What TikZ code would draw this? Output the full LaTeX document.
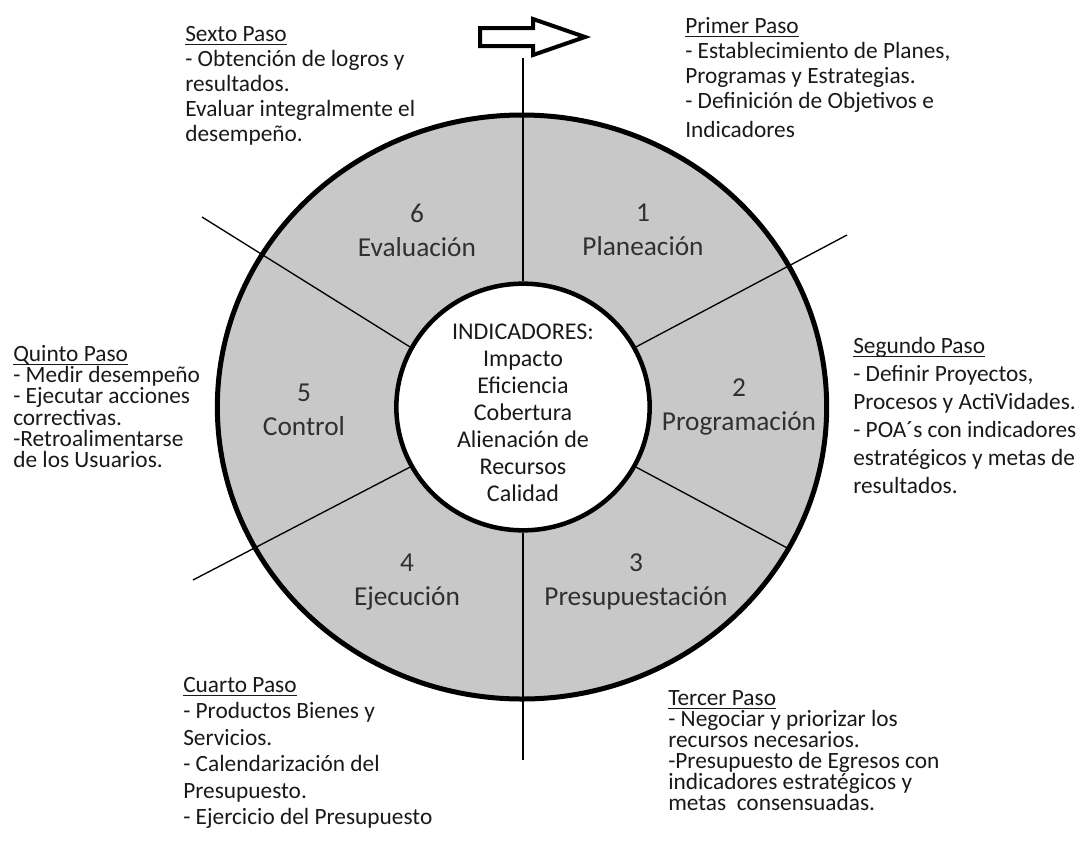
\documentclass[tikz,border=0pt]{standalone}
\usepackage{fontspec}
\setmainfont{Carlito}
\usepackage{tikz}
\usetikzlibrary{positioning,shapes}
\definecolor{anillo}{RGB}{200,200,200}
\definecolor{letra}{RGB}{25,25,25}
\newcommand{\titulo}[1]{\setbox0\hbox{#1}\rlap{\rule[-2.6pt]{\wd0}{0.9pt}}\box0}
\tikzset{
  paso/.style={anchor=north west, align=left, inner sep=0pt, text=letra,
    font={\fontsize{17.5}{#1}\selectfont\lineskiplimit=-20pt}},
  paso/.default=19pt,
  etapa/.style={align=center, inner sep=0pt, text=letra!90,
    font=\fontsize{20.5}{25.5}\selectfont},
  radio/.style={line width=1pt},
  aro/.style={ellipse, draw, inner sep=0pt, line width=#1},
}

\begin{document}
\begin{tikzpicture}[x=0.75pt,y=-0.75pt]
    \useasboundingbox (0,0) rectangle (1091,843);
    \node[aro=3.75pt, fill=anillo, minimum width=457pt, minimum height=438pt] (anillo) at (522,407) {};
    \node[aro=3.4pt, fill=white, minimum width=190pt, minimum height=185pt] (centro) at (523,407) {};

    \coordinate (arriba) at (523,58);
    \coordinate (abajo) at (523,760);
    \coordinate (nordeste) at (847,235);
    \coordinate (noroeste) at (202,217);
    \coordinate (suroeste) at (193,580);
    \draw[radio] (arriba) -- (centro.north);
    \draw[radio] (centro.south) -- (abajo);
    \draw[radio] (centro.28) -- (nordeste);
    \draw[radio] (centro.152) -- (noroeste);
    \draw[radio] (centro.208) -- (suroeste);
    \draw[radio] (centro.-28) -- (anillo.-28);

    \draw[line width=3pt, fill=white, line join=miter]
        (480,28) -- (533,28) -- (533,19) -- (585,37) -- (533,55) -- (533,46) -- (480,46) -- cycle;

    \node[etapa] (planeacion) at (643,230) {1\\Planeación};
    \node[etapa] (evaluacion) at (417,230) {6\\Evaluación};
    \node[etapa] (control) at (304,410) {5\\Control};
    \node[etapa] (programacion) at (739,407) {2\\Programación};
    \node[etapa] (ejecucion) at (407,582) {4\\Ejecución};
    \node[etapa] (presupuestacion) at (636,582) {3\\Presupuestación};

    \node[align=center, inner sep=0pt, text=letra, font=\fontsize{18}{20.3}\selectfont] (indicadores) at (523,413)
        {INDICADORES:\\Impacto\\Eficiencia\\Cobertura\\Alienación de\\Recursos\\Calidad};

    \node[paso=18.8pt] (sexto) at (185,26) {\titulo{Sexto Paso}\\- Obtención de logros y\\resultados.\\Evaluar integralmente el\\desempeño.};
    \node[paso=18.8pt] (primero) at (685,17) {\titulo{Primer Paso}\\- Establecimiento de Planes,\\Programas y Estrategias.\\- Definición de Objetivos e\\[3pt]Indicadores};
    \node[paso=21pt] (segundo) at (853,337) {\titulo{Segundo Paso}\\- Definir Proyectos,\\Procesos y ActiVidades.\\- POA´s con indicadores\\estratégicos y metas de\\resultados.};
    \node[paso=16pt] (quinto) at (13,345) {\titulo{Quinto Paso}\\- Medir desempeño\\- Ejecutar acciones\\correctivas.\\-Retroalimentarse\\de los Usuarios.};
    \node[paso=19.8pt] (cuarto) at (183,677) {\titulo{Cuarto Paso}\\- Productos Bienes y\\Servicios.\\- Calendarización del\\Presupuesto.\\- Ejercicio del Presupuesto};
    \node[paso=15.8pt] (tercero) at (668,690) {\titulo{Tercer Paso}\\- Negociar y priorizar los\\recursos necesarios.\\-Presupuesto de Egresos con\\indicadores estratégicos y\\metas~ consensuadas.};
\end{tikzpicture}
\end{document}
